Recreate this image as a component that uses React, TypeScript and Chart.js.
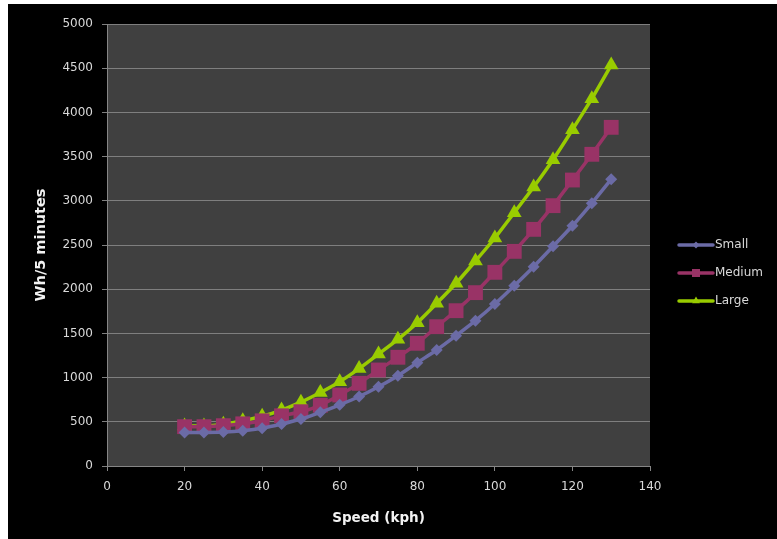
import React, { useEffect, useRef } from "react";
import { Chart, registerables } from "chart.js";

Chart.register(...registerables);

const speeds = [20, 25, 30, 35, 40, 45, 50, 55, 60, 65, 70, 75, 80, 85, 90, 95, 100, 105, 110, 115, 120, 125, 130];
const small = [380, 380, 385, 400, 428, 475, 532, 607, 692, 786, 897, 1022, 1169, 1312, 1474, 1644, 1833, 2040, 2255, 2485, 2718, 2972, 3243];
const medium = [445, 445, 456, 477, 511, 568, 614, 687, 803, 935, 1086, 1230, 1388, 1576, 1757, 1961, 2191, 2428, 2677, 2945, 3235, 3526, 3831];
const large = [452, 452, 473, 511, 563, 633, 722, 831, 954, 1102, 1267, 1433, 1621, 1840, 2067, 2319, 2579, 2866, 3156, 3465, 3804, 4155, 4536];

const seriesNames = ["Small", "Medium", "Large"];
const seriesColors = ["#6b6ba6", "#993366", "#99cc00"];
const seriesShapes = ["rectRot", "rect", "triangle"];
const seriesRadius = [6, 10.5, 8.5];

const xTitle = "Speed (kph)";
const yTitle = "Wh/5 minutes";

const FONT = "'DejaVu Sans', sans-serif";
const TICK_COLOR = "#d9d9d9";

const bgPlugin = {
  id: "plotBg",
  beforeDraw(chart: any) {
    const { ctx, chartArea } = chart;
    ctx.save();
    ctx.fillStyle = "#404040";
    ctx.fillRect(chartArea.left, chartArea.top, chartArea.right - chartArea.left, chartArea.bottom - chartArea.top);
    ctx.restore();
  },
};

const legendPlugin = {
  id: "customLegend",
  afterDraw(chart: any) {
    const { ctx } = chart;
    const x0 = 671;
    const x1 = 705;
    const ys = [241, 269, 297];
    ctx.save();
    seriesNames.forEach((name, i) => {
      const y = ys[i];
      const c = seriesColors[i];
      ctx.strokeStyle = c;
      ctx.fillStyle = c;
      ctx.lineWidth = 3.5;
      ctx.lineCap = "round";
      ctx.beginPath();
      ctx.moveTo(x0, y);
      ctx.lineTo(x1, y);
      ctx.stroke();
      const cx = (x0 + x1) / 2;
      ctx.beginPath();
      if (i === 0) {
        const r = 3.5;
        ctx.moveTo(cx - r, y);
        ctx.lineTo(cx, y - r);
        ctx.lineTo(cx + r, y);
        ctx.lineTo(cx, y + r);
        ctx.closePath();
      } else if (i === 1) {
        ctx.rect(cx - 4, y - 4, 8, 8);
      } else {
        const r = 4.5;
        ctx.moveTo(cx, y - r);
        ctx.lineTo(cx + r * 0.866, y + r * 0.5);
        ctx.lineTo(cx - r * 0.866, y + r * 0.5);
        ctx.closePath();
      }
      ctx.fill();
      ctx.fillStyle = TICK_COLOR;
      ctx.font = `12px ${FONT}`;
      ctx.textBaseline = "middle";
      ctx.textAlign = "left";
      ctx.fillText(name, x1 + 2, y);
    });
    ctx.restore();
  },
};

export default function App() {
  const ref = useRef<HTMLCanvasElement | null>(null);

  useEffect(() => {
    if (!ref.current) return;
    const datasets = [small, medium, large].map((vals, i) => ({
      label: seriesNames[i],
      data: speeds.map((s, j) => ({ x: s, y: vals[j] })),
      borderColor: seriesColors[i],
      backgroundColor: seriesColors[i],
      borderWidth: 3.5,
      pointStyle: seriesShapes[i] as any,
      pointRadius: seriesRadius[i],
      pointBorderWidth: 0,
      pointBackgroundColor: seriesColors[i],
      tension: 0.2,
    }));
    const chart = new Chart(ref.current, {
      type: "line",
      data: { datasets },
      plugins: [bgPlugin, legendPlugin],
      options: {
        animation: false,
        responsive: false,
        layout: { padding: { top: 20, right: 127, left: 0, bottom: 0 } },
        plugins: { legend: { display: false }, tooltip: { enabled: false } },
        scales: {
          x: {
            type: "linear",
            min: 0,
            max: 140,
            afterFit: (s: any) => {
              s.height = 73;
            },
            ticks: {
              stepSize: 20,
              color: TICK_COLOR,
              font: { family: FONT, size: 12 },
              padding: 9,
              maxRotation: 0,
              callback: (v: any) => String(v),
            },
            grid: { drawOnChartArea: false, drawTicks: true, tickLength: 5, color: "#868686" },
            border: { color: "#868686", width: 1 },
            title: {
              display: true,
              text: xTitle,
              color: "#f2f2f2",
              font: { family: FONT, size: 13.5, weight: "bold" },
              padding: { top: 0, bottom: 12 },
            },
          },
          y: {
            min: 0,
            max: 5000,
            afterFit: (s: any) => {
              s.width = 99;
            },
            ticks: {
              stepSize: 500,
              color: TICK_COLOR,
              font: { family: FONT, size: 12 },
              padding: 9,
              callback: (v: any) => String(v),
            },
            grid: { color: "#7f7f7f", tickLength: 5, lineWidth: 1 },
            border: { color: "#868686", width: 1 },
            title: {
              display: true,
              text: yTitle,
              color: "#f2f2f2",
              font: { family: FONT, size: 14.5, weight: "bold" },
              padding: { top: 25, bottom: 0 },
            },
          },
        },
      },
    });
    return () => chart.destroy();
  }, []);

  return (
    <div style={{ position: "absolute", left: 8, top: 4, width: 769, height: 535, background: "#000" }}>
      <canvas ref={ref} width={769} height={535} style={{ display: "block", width: 769, height: 535 }} />
    </div>
  );
}
